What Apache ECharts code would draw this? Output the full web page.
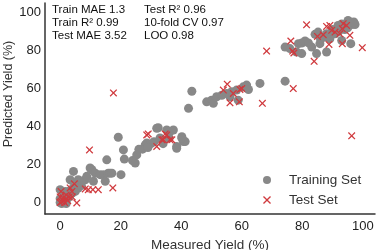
<!DOCTYPE html>
<html><head><meta charset="utf-8">
<script src="https://cdn.jsdelivr.net/npm/echarts@6/dist/echarts.min.js"></script>
<style>html,body{margin:0;padding:0;background:#fff}#c{width:379px;height:250px}</style>
</head><body><div id="c"></div>
<script>
const xTicks = [0, 20, 40, 60, 80, 100];
const yTicks = [0, 20, 40, 60, 80, 100];
const xTitle = 'Measured Yield (%)';
const yTitle = 'Predicted Yield (%)';
const legendNames = ['Training Set', 'Test Set'];
const statsLeft = ['Train MAE 1.3', 'Train R\u00B2 0.99', 'Test MAE 3.52'];
const statsRight = ['Test R\u00B2 0.96', '10-fold CV 0.97', 'LOO 0.98'];
const trainPoints = [
 [0,0],[0.5,1],[1,0.5],[1.5,2],[2,1],[2.5,2.5],[3,3],[0,2],[1,3],[2,4],[3.5,4.5],[4,5],[0.5,-0.5],[1.5,0],[2,-0.5],
 [0,6.8],[1.7,5.9],[5,5.9],[6,7.7],[3,6],[4.4,8],[5.5,9],
 [4.4,16.4],[3.3,12],[6,11.2],[6,12],[8.3,12],[7,9],[8.8,13.8],[9.9,18.2],[10.5,17.3],[11.6,15.5],[11,11.2],
 [13.2,14.7],[14.3,14.7],[14.9,11.2],[15.9,15.5],[16.5,15.5],[17.1,15.5],[15.4,22.5],[19.2,34.4],[20.9,27.7],
 [21.2,22.9],[20.1,14.7],[23.9,22.1],[24.8,20.8],[25.3,25.1],[27.2,28.1],[28.1,30.4],[28.6,31.3],[30,31],[31,32],
 [32.4,39.4],[31.9,39.1],[33,34],[34,31],[35.2,38.2],[36.3,37.3],[37.4,38.2],[38.5,29.5],[38.5,28.6],[40.2,34.7],
 [40.7,32.1],[41.3,32.1],[40.2,33.9],[26,28],[29,29],[36,34],
 [43.5,58.6],[42.4,49.6],[48.4,53],[50,53.9],[50.6,52.2],[51.7,55.7],[53.4,56.5],[55,57.4],[56.1,55.7],[56.7,58.3],
 [58.3,59.2],[58.8,53.9],[60.5,60.9],[61.6,61.8],[62.2,59.5],[66,62.7],[74.3,63.9],
 [74.3,81.8],[75.9,81],[78.1,79.2],[78.7,83.6],[79.8,83.9],[79.8,78.4],[80.9,85],[83.1,81.8],[84.2,88.5],[84.7,78.4],
 [85.2,89.7],[85.8,83.6],[88,79.2],[88,88.8],[89.1,86.2],[90.8,88.8],[91.8,93.2],[93,85.3],[95.1,95.8],[96.3,93.7],
 [97.4,93.7],[96,83.6],[94,91],[92,90],[87,87],[86,86],[82,84],[95,92],[97,95],[93,94],[90,91]
];
const testPoints = [
 [0,0],[0.5,0.5],[1,1],[1.5,0],[2,2],[2.5,1],[3,3],[1,2.5],[0.3,5.9],[3.3,7.7],[4.7,9.9],[3.9,5.9],[5.5,-0.2],
 [8.3,7.2],[9.3,6.8],[10.8,6.8],[12.6,6.8],[17.4,7.7],[9.7,27.7],[17.6,57.7],[2,4],[4,3],[0,3],
 [28.6,35.6],[29.1,36.1],[34.1,33],[34.7,36.1],[35.2,35.6],[36.9,33],[31.9,29.5],[33.6,33],[36.3,33],
 [55.2,62.3],[53.9,59.2],[57.2,57.4],[59.4,59.5],[60,60],[56.1,52.5],[59.2,53],[66.8,52.2],[77,60],
 [68.2,79.7],[81.4,93.5],[76.2,85],[76.8,79.7],[77.2,78.7],[83.9,74.3],[88.8,83.2],[93.2,83.6],[99.8,81.5],
 [85,87.4],[86.9,88.3],[88,92.7],[89.1,93.2],[89.7,90.6],[90.8,89.7],[92.4,88.8],[93.5,94.1],[94.6,93.2],
 [95.7,88],[93.2,91.5],[96.3,35.1]
];

const FONT = '"Liberation Sans", Arial, sans-serif';
const crossPath = 'path://M0,1.2L1.2,0L5,3.8L8.8,0L10,1.2L6.2,5L10,8.8L8.8,10L5,6.2L1.2,10L0,8.8L3.8,5Z';
const chart = echarts.init(document.getElementById('c'), null, {renderer: 'canvas'});
const axisCommon = {
  type: 'value',
  splitLine: {show: false},
  axisTick: {show: false},
  axisLine: {show: true, onZero: false, lineStyle: {color: '#333', width: 1.5}},
  nameLocation: 'middle',
  nameTextStyle: {fontFamily: FONT, fontSize: 13.5, color: '#333'}
};
const textEls = [];
statsLeft.forEach((t, i) => textEls.push({type: 'text', left: 52, top: 4 + i * 13,
  style: {text: t, font: '11.5px ' + FONT, fill: '#111'}}));
statsRight.forEach((t, i) => textEls.push({type: 'text', left: 144, top: 4 + i * 13,
  style: {text: t, font: '11.5px ' + FONT, fill: '#111'}}));
textEls.push({type: 'text', x: 9, y: 94, rotation: Math.PI / 2,
  style: {text: yTitle, font: '12.5px ' + FONT, fill: '#333', align: 'center', verticalAlign: 'middle'}});
chart.setOption({
  animation: false,
  backgroundColor: '#fff',
  grid: {left: 45, right: 4, top: 3, bottom: 36, containLabel: false, outerBoundsMode: 'none'},
  xAxis: Object.assign({}, axisCommon, {
    min: -5, max: 104, name: xTitle, nameGap: 18,
    axisLabel: {customValues: xTicks, fontFamily: FONT, fontSize: 13, color: '#222', margin: 6}
  }),
  yAxis: Object.assign({}, axisCommon, {
    min: -6, max: 105,
    axisLabel: {customValues: yTicks, fontFamily: FONT, fontSize: 13, color: '#222', margin: 4}
  }),
  legend: {
    orient: 'vertical', left: 258, top: 168, itemGap: 6, itemWidth: 12, itemHeight: 8,
    textStyle: {fontFamily: FONT, fontSize: 13.5, color: '#333', padding: [0, 0, 0, 11]},
    data: [
      {name: legendNames[0], icon: 'circle'},
      {name: legendNames[1], icon: crossPath}
    ]
  },
  graphic: textEls,
  series: [
    {name: legendNames[0], type: 'scatter', data: trainPoints, symbol: 'circle', symbolSize: 9,
     itemStyle: {color: '#888888', opacity: 1}, z: 2},
    {name: legendNames[1], type: 'scatter', data: testPoints, symbol: crossPath, symbolSize: 7.5,
     itemStyle: {color: '#d03a3e', opacity: 1}, z: 3}
  ]
});
</script></body></html>
